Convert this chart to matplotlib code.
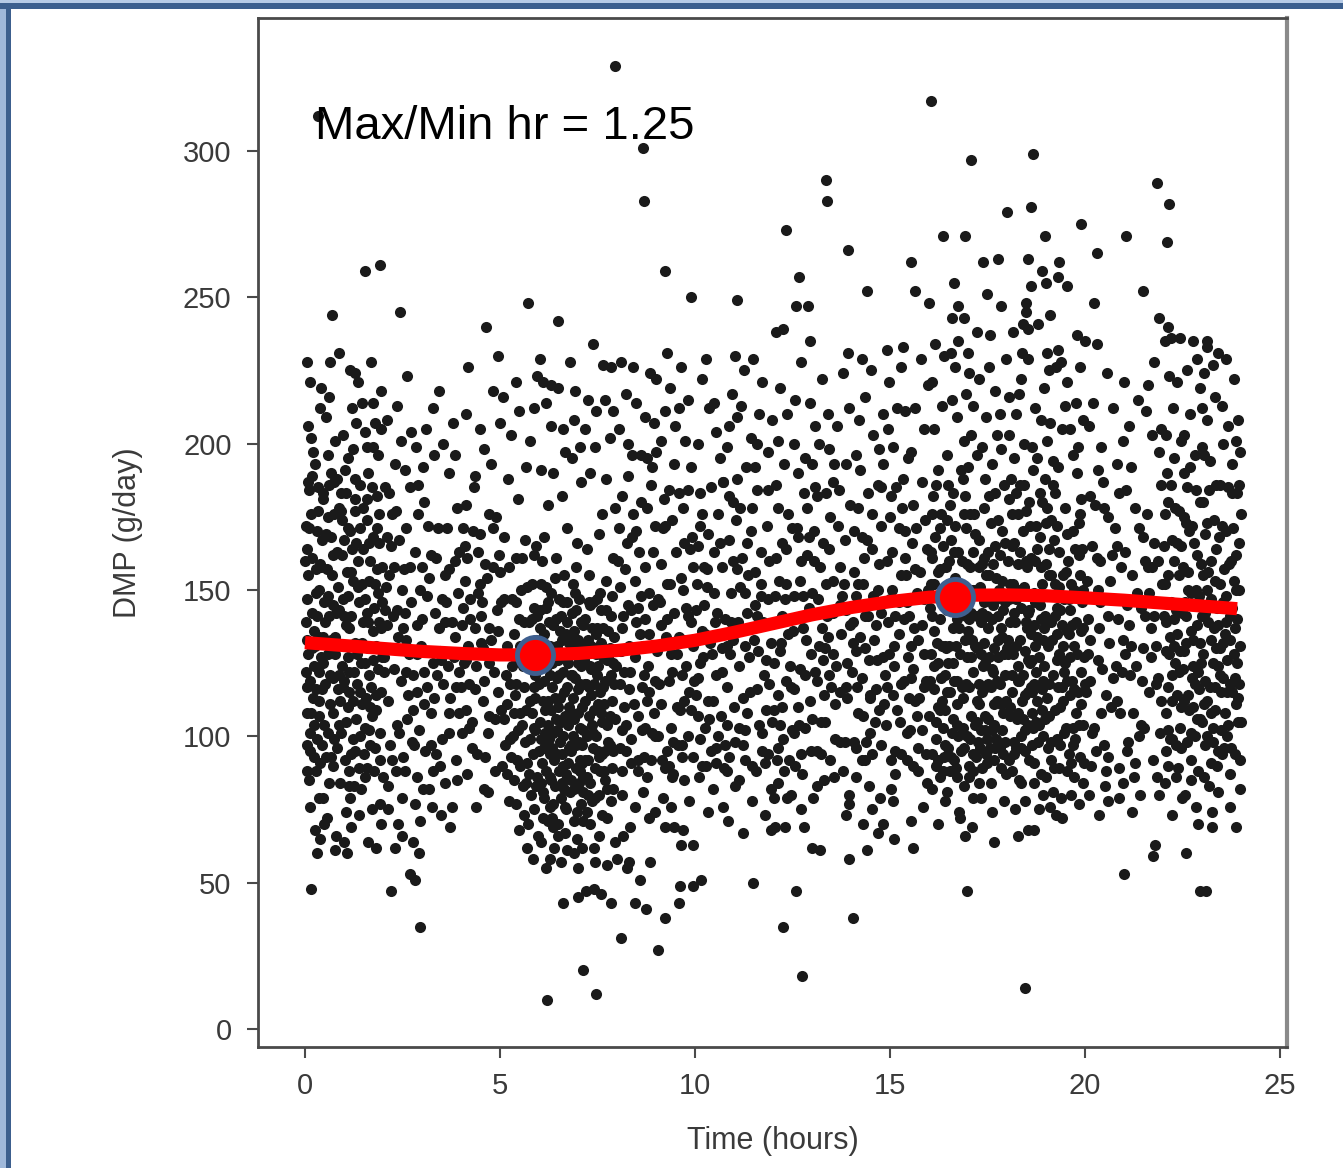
import numpy as np
import matplotlib.pyplot as plt
from matplotlib.patches import Rectangle

pts_00_02 = [
    0.33,312, 0.69,244, 1.54,259, 1.92,261, 0.64,228, 1.28,224, 1.36,221, 1.95,218, 0.38,212, 1.20,212,
    1.74,214, 0.08,206, 0.15,202, 1.54,204, 1.95,205, 1.74,199, 0.59,196, 0.08,187, 0.67,190, 1.28,188,
    1.62,190, 0.92,183, 1.10,195, 0.45,181, 1.85,182, 0.25,193,
    0.03,172, 0.41,158, 1.27,181, 0.86,143, 1.63,166, 0.12,119, 1.94,137, 0.58,101, 1.09,127, 0.29,88,
    1.45,152, 0.74,176, 0.06,147, 1.81,109, 0.95,162, 0.37,134, 1.52,94, 1.18,141, 0.64,121, 1.71,185,
    0.18,161, 1.33,118, 0.82,96, 1.98,158, 0.49,146, 1.05,183, 0.23,104, 1.62,130, 0.91,112, 1.41,171,
    0.08,128, 0.55,169, 1.22,99, 1.77,144, 0.33,177, 0.97,131, 1.56,113, 0.14,95, 1.87,123, 0.69,155,
    1.11,148, 0.44,116, 1.67,97, 0.02,139, 0.78,134, 1.36,160, 1.93,101, 0.27,149, 1.04,105, 0.61,186,
    1.49,139, 0.16,176, 0.88,121, 1.74,168, 0.39,91, 1.28,132, 0.05,108, 1.59,181, 0.72,108, 1.16,170,
    0.25,131, 1.88,149, 0.52,139, 1.02,92, 1.44,125, 0.11,184, 0.81,163, 1.69,117, 0.35,122, 1.24,153,
    0.01,160, 0.67,93, 1.54,103, 0.94,174, 1.83,131, 0.21,113, 1.13,115, 0.47,183, 1.38,89, 0.76,128,
    1.96,115, 0.31,99, 1.07,156, 0.58,128, 1.65,153, 0.09,85, 1.31,106, 0.84,151, 1.79,96, 0.43,167,
    0.19,142, 1.48,164, 0.98,117, 0.63,111, 1.21,164, 1.91,176, 0.04,117, 0.71,145, 1.58,142, 0.36,107,
    0.13,76, 0.57,72, 1.15,79, 1.73,75, 0.89,84, 1.43,82, 0.26,68, 1.99,86, 0.79,66, 1.26,83,
    0.46,79, 1.61,64, 1.04,74, 0.15,48, 0.30,60, 0.77,61, 1.08,60, 0.38,65, 1.82,62, 1.18,69, 1.95,70,
    0.07,155, 0.52,118, 1.14,137, 1.66,110, 0.31,170, 0.87,104, 1.39,146, 1.97,127, 0.22,136, 0.73,162,
    1.25,122, 1.84,157, 0.43,97, 0.99,141, 1.58,174, 0.12,101, 0.66,133, 1.19,94, 1.75,136, 0.35,150,
    0.93,177, 1.47,111, 0.04,164, 0.59,148, 1.09,110, 1.63,121, 0.28,116, 0.81,188, 1.34,128, 1.89,166,
    0.47,125, 1.01,167, 1.53,147, 0.17,130, 0.74,99, 1.29,177, 1.81,114, 0.39,159, 0.96,124, 1.42,100,
    0.06,97, 0.32,141, 0.58,175, 0.84,116, 1.12,88, 1.37,151, 1.63,102, 1.89,139, 0.19,189, 0.45,134,
    0.71,120, 0.97,147, 1.23,112, 1.49,178, 1.75,126, 0.02,122, 0.28,157, 0.54,93, 0.80,142, 1.06,138,
    1.32,166, 1.58,89, 1.84,171, 0.15,108, 0.41,127, 0.67,168, 0.93,101, 1.19,156, 1.45,132, 1.71,107,
    0.10,171, 0.36,112, 0.62,141, 0.88,178, 1.14,122, 1.40,115, 1.66,160, 1.92,92, 0.23,124, 0.49,104,
    0.75,187, 1.01,119, 1.27,95, 1.53,125, 1.79,152, 0.05,133, 0.57,157, 1.09,171, 1.61,139, 1.97,146,
]
pts_02_04 = [
    2.44,245, 2.46,201, 2.85,199, 2.30,193, 2.56,191, 2.05,185, 3.28,212, 3.10,205, 3.55,200, 3.85,196,
    2.20,47, 2.95,35, 2.70,53, 2.82,51, 2.30,62, 2.49,66, 2.92,60, 3.72,69,
    2.07,151, 2.66,128, 3.41,171, 2.93,102, 3.78,139, 2.24,176, 3.12,117, 2.51,93, 3.59,155, 2.38,134,
    3.95,108, 2.81,163, 3.27,88, 2.12,112, 3.66,124, 2.73,146, 3.04,180, 2.45,119, 3.85,160, 2.18,97,
    3.33,142, 2.59,171, 3.51,99, 2.97,131, 2.29,158, 3.72,113, 2.86,86, 3.19,154, 2.03,127, 3.46,129,
    2.62,106, 3.91,178, 2.35,143, 3.08,95, 2.77,121, 3.62,146, 2.15,183, 3.24,108, 2.54,157, 3.87,92,
    2.41,101, 3.01,140, 3.55,118, 2.69,185, 2.09,138, 3.37,161, 2.88,115, 3.81,127, 2.27,123, 3.15,172,
    2.57,142, 3.69,101, 2.99,158, 2.33,88, 3.44,137, 2.79,97, 3.93,149, 2.21,165, 3.29,125, 2.64,114,
    2.48,79, 3.17,82, 2.83,77, 3.58,84, 2.13,83, 3.76,76, 2.94,71, 3.35,94,
    2.11,168, 2.58,133, 3.06,111, 3.52,147, 2.37,104, 2.91,176, 3.39,121, 3.84,134, 2.26,141, 2.74,98,
    3.23,162, 3.68,108, 2.02,122, 2.49,150, 3.13,129, 3.63,171, 2.87,138, 3.47,90, 2.18,130, 3.96,122,
    2.06,143, 2.42,167, 2.78,109, 3.14,148, 3.50,126, 3.86,117, 2.24,92, 2.60,122, 2.96,150, 3.32,113,
    3.68,157, 2.15,155, 2.51,137, 2.87,128, 3.23,97, 3.59,139, 3.95,163, 2.33,177, 2.69,158, 3.05,122,
]
pts_04_06 = [
    4.64,240, 5.72,248, 4.18,226, 5.08,216, 5.50,211, 4.49,205, 5.77,201, 4.69,81, 5.18,87, 4.87,88,
    4.05,171, 4.48,152, 5.21,188, 4.76,133, 5.64,167, 4.14,109, 5.03,146, 4.39,124, 5.47,181, 4.27,96,
    5.86,144, 4.71,176, 5.15,121, 4.02,138, 5.56,104, 4.61,159, 4.94,115, 4.33,185, 5.79,126, 4.09,153,
    5.26,99, 4.52,141, 5.42,161, 4.86,106, 4.19,131, 5.69,91, 4.78,193, 5.09,168, 4.01,117, 5.35,135,
    4.56,112, 5.93,165, 4.24,147, 4.99,128, 4.68,101, 5.53,150, 4.12,179, 5.17,111, 4.43,163, 5.81,108,
    4.35,137, 4.91,175, 5.45,126, 4.59,119, 4.03,101, 5.31,147, 4.82,158, 5.74,139, 4.21,118, 5.12,97,
    4.49,169, 5.61,117, 4.93,143, 4.28,105, 5.38,114, 4.73,137, 5.89,121, 4.16,161, 5.23,158, 4.57,130,
    5.58,83, 5.84,94, 5.41,77, 5.71,70, 5.97,66, 5.52,90, 5.29,93, 5.91,102, 5.66,130, 5.76,112,
    5.95,86, 5.36,85,
    4.08,125, 4.55,146, 5.02,109, 5.49,140, 4.31,170, 4.84,122, 5.33,100, 5.83,152, 4.23,140, 4.71,107,
    5.18,131, 5.67,109, 4.44,149, 4.97,162, 5.44,92, 5.92,133, 4.14,126, 4.62,93, 5.11,147, 5.58,124,
    5.63,98, 5.79,80, 5.86,117, 5.51,108, 5.96,141, 5.70,151, 5.41,118, 5.88,75, 5.74,87, 5.99,95,
    4.06,144, 4.36,116, 4.66,154, 4.96,136, 5.26,118, 5.56,161, 5.86,103, 4.21,103, 4.51,132, 4.81,171,
    5.11,106, 5.41,146, 5.71,128, 4.11,165, 4.41,94, 4.71,125, 5.01,156, 5.31,124, 5.61,139, 5.91,113,
    5.46,102, 5.66,84, 5.81,140, 5.51,131, 5.76,99, 5.96,123, 5.36,108, 5.86,162, 5.61,73, 5.93,83,
]
pts_06_08 = [
    7.95,329, 6.49,242, 7.38,234, 5.95,223, 6.10,221, 6.30,220, 6.50,219, 6.92,218, 7.26,215, 7.90,211,
    7.64,227, 7.85,226, 6.20,10, 7.13,20, 7.46,12, 6.62,43, 7.00,45, 7.85,43, 7.20,47, 7.40,48,
    7.60,46, 6.38,62, 6.56,57, 7.00,55, 7.44,57, 7.75,56, 8.00,58, 8.25,55,
    6.04,152, 6.47,131, 7.21,118, 6.83,97, 7.58,143, 6.16,109, 7.02,84, 6.61,122, 7.39,101, 6.29,76,
    7.77,127, 6.92,149, 6.08,91, 7.45,135, 6.55,113, 7.13,71, 6.37,138, 7.66,88, 6.74,104, 7.29,155,
    6.21,124, 6.99,116, 7.52,95, 6.42,83, 7.08,139, 6.67,67, 7.86,112, 6.12,135, 7.34,123, 6.88,129,
    6.51,147, 7.18,92, 6.26,99, 7.71,153, 6.79,81, 7.41,109, 6.01,118, 6.95,158, 7.62,73, 6.34,117,
    7.05,103, 6.58,94, 7.93,134, 6.19,144, 7.25,133, 6.71,139, 7.49,121, 6.44,106, 7.82,97, 6.86,113,
    6.11,81, 7.36,78, 6.64,155, 7.15,126, 6.39,92, 7.56,115, 6.97,74, 6.24,129, 7.74,104, 6.81,121,
    6.49,70, 7.03,147, 6.15,101, 7.44,89, 6.77,132, 7.27,107, 6.57,141, 7.91,82, 6.32,149, 7.11,97,
    6.69,87, 7.63,137, 6.07,126, 6.91,106, 7.32,145, 6.45,120, 7.53,80, 6.85,142, 6.23,112, 7.19,112,
    6.62,100, 7.08,124, 6.36,69, 6.94,89, 7.47,128, 6.18,97, 6.73,117, 7.23,86, 6.53,136, 7.69,119,
    6.02,105, 6.89,136, 7.38,96, 6.41,154, 7.01,108, 6.66,76, 7.14,131, 6.28,86, 6.82,95, 7.58,108,
    6.13,168, 6.58,182, 7.24,164, 6.85,195, 7.61,176, 6.31,206, 7.07,187, 7.89,161, 6.72,171, 7.43,199,
    6.05,191, 6.97,166, 7.72,188, 6.44,161, 7.17,205, 6.66,197, 7.53,169, 6.22,179, 7.95,178, 6.91,208,
    6.03,143, 6.27,121, 6.52,88, 6.76,110, 7.01,133, 7.26,92, 7.51,111, 7.76,136, 6.14,79, 6.39,130,
    6.64,115, 6.89,82, 7.14,102, 7.39,146, 7.64,127, 7.89,95, 6.09,112, 6.34,96, 6.59,133, 6.84,121,
    7.09,91, 7.34,114, 7.59,132, 7.84,121, 6.19,151, 6.44,140, 6.69,127, 6.94,143, 7.19,140, 7.44,79,
    7.69,95, 6.06,84, 6.31,109, 6.56,105, 6.81,85, 7.06,118, 7.31,124, 7.56,149, 7.81,107, 6.25,139,
    6.50,126, 6.75,91, 7.00,125, 7.25,80, 7.50,137, 7.75,82, 6.12,96, 6.37,77, 6.62,146, 6.87,100,
    7.12,81, 7.37,137, 7.62,94, 7.87,148, 6.22,71, 6.47,94, 6.72,61, 6.97,65, 7.22,74, 6.33,125,
    6.02,137, 6.22,104, 6.42,113, 6.62,90, 6.82,134, 7.02,98, 7.22,129, 7.42,118, 7.62,105, 7.82,130,
    6.12,119, 6.32,85, 6.52,121, 6.72,146, 6.92,120, 7.12,138, 7.32,84, 7.52,124, 7.72,143, 7.92,118,
    6.07,160, 6.27,131, 6.47,102, 6.67,107, 6.87,152, 7.07,77, 7.27,146, 7.47,100, 7.67,111, 7.87,89,
    6.17,88, 6.37,101, 6.57,79, 6.77,96, 6.97,130, 7.17,118, 7.37,104, 7.57,88, 7.77,98, 7.97,124,
    6.04,99, 6.24,146, 6.44,128, 6.64,82, 6.84,108, 7.04,92, 7.24,100, 7.44,130, 7.64,117, 7.84,141,
    6.14,128, 6.34,72, 6.54,98, 6.74,125, 6.94,97, 7.14,86, 7.34,131, 7.54,93, 7.74,126, 7.94,106,
    6.09,72, 6.29,94, 6.49,110, 6.69,135, 6.89,71, 7.09,110, 7.29,117, 7.49,147, 7.69,85, 7.89,125,
]
pts_08_10 = [
    8.67,301, 8.69,283, 9.23,259, 9.90,250, 9.28,231, 8.10,31, 9.05,27, 9.23,38, 8.46,43, 8.74,41,
    9.59,43, 9.62,49, 9.95,49, 8.60,51, 8.85,57, 9.23,69, 9.45,69, 9.70,68, 9.65,63, 9.95,63,
    8.30,57, 8.15,66, 8.40,226, 8.85,224,
    8.04,171, 8.61,148, 9.33,119, 8.87,186, 9.71,133, 8.22,104, 9.12,159, 8.46,127, 9.57,97, 8.35,143,
    9.93,168, 8.76,112, 9.21,181, 8.13,137, 9.64,154, 8.69,93, 9.03,129, 8.41,176, 9.85,115, 8.18,122,
    9.38,103, 8.57,163, 9.46,142, 8.94,108, 8.28,189, 9.67,121, 8.83,135, 9.15,92, 8.07,151, 9.42,174,
    8.64,117, 9.89,139, 8.36,99, 9.06,147, 8.73,158, 9.61,109, 8.11,129, 9.25,134, 8.53,88, 9.81,184,
    8.45,153, 8.98,119, 9.52,163, 8.67,131, 8.09,96, 9.35,152, 8.89,101, 9.76,124, 8.26,166, 9.14,111,
    8.55,107, 9.69,178, 8.97,172, 8.32,116, 9.44,87, 8.79,124, 9.95,131, 8.16,141, 9.28,95, 8.62,180,
    8.38,196, 9.14,201, 8.72,209, 9.47,193, 8.04,205, 9.81,215, 8.91,192, 9.58,212, 8.24,217, 9.01,222,
    8.46,76, 9.19,79, 8.81,72, 9.73,85, 8.14,88, 9.38,76, 8.67,81, 9.96,93,
    8.09,118, 8.58,135, 9.04,100, 9.53,128, 8.31,131, 8.82,149, 9.28,140, 9.77,144, 8.20,157, 8.71,103,
    9.18,171, 9.66,97, 8.43,111, 8.92,163, 9.41,122, 9.90,109, 8.13,182, 8.61,196, 9.10,146, 9.58,183,
    8.37,91, 8.86,92, 9.33,90, 9.82,100, 8.50,170, 9.00,197, 9.48,206, 9.95,158, 8.27,145, 9.71,166,
    8.03,160, 8.33,122, 8.63,102, 8.93,145, 9.23,172, 9.53,110, 9.83,141, 8.18,110, 8.48,139, 8.78,178,
    9.08,118, 9.38,128, 9.68,150, 9.98,119, 8.08,129, 8.38,168, 8.68,121, 8.98,100, 9.28,152, 9.58,134,
    9.88,164, 8.23,95, 8.53,144, 8.83,115, 9.13,138, 9.43,98, 9.73,112, 8.13,102, 8.73,140, 9.33,184,
]
pts_10_12 = [
    11.08,249, 11.03,230, 11.50,229, 10.15,51, 11.50,50, 10.85,71, 11.23,67, 11.95,68, 11.80,73,
    10.06,152, 10.58,176, 11.29,131, 10.83,104, 11.68,163, 10.21,127, 11.09,188, 10.47,112, 11.53,145, 10.34,169,
    11.91,118, 10.77,140, 11.24,97, 10.12,183, 11.61,129, 10.69,158, 11.01,110, 10.41,95, 11.84,172, 10.17,136,
    11.36,155, 10.55,121, 11.47,178, 10.92,149, 10.26,103, 11.71,101, 10.86,167, 11.14,124, 10.03,114, 11.41,137,
    10.63,195, 11.88,147, 10.31,151, 11.04,174, 10.74,89, 11.58,116, 10.14,99, 11.21,161, 10.51,139, 11.79,91,
    10.44,128, 10.97,133, 11.55,192, 10.66,107, 10.08,165, 11.33,108, 10.88,182, 11.74,139, 10.23,145, 11.16,151,
    10.54,204, 11.08,209, 10.81,199, 11.44,202, 10.36,212, 11.86,197, 10.95,217, 11.63,210, 10.19,222, 11.26,225,
    10.46,82, 11.12,85, 10.72,76, 11.57,88, 10.28,90, 11.94,82,
    10.09,120, 10.57,142, 11.03,98, 11.52,133, 10.30,157, 10.81,117, 11.28,149, 11.76,121, 10.19,90, 10.68,130,
    11.16,178, 11.64,104, 10.42,185, 10.91,128, 11.40,115, 11.89,160, 10.12,172, 10.60,100, 11.10,139, 11.58,184,
    10.36,106, 10.86,93, 11.34,166, 11.82,109, 10.50,163, 10.98,160, 11.46,90, 11.95,132, 10.26,135, 11.70,152,
    10.03,143, 10.33,112, 10.63,166, 10.93,139, 11.23,113, 11.53,156, 11.83,126, 10.18,176, 10.48,149, 10.78,97,
    11.08,157, 11.38,127, 11.68,148, 11.98,105, 10.08,107, 10.38,132, 10.68,122, 10.98,180, 11.28,102, 11.58,141,
    11.88,184, 10.23,158, 10.53,96, 10.83,131, 11.13,103, 11.43,170, 11.73,95, 10.13,125, 10.73,187, 11.33,142,
]
pts_12_14 = [
    13.36,290, 13.38,283, 12.33,273, 13.92,266, 12.67,257, 12.59,247, 12.90,247, 12.26,239, 12.95,235, 13.92,231,
    12.08,238, 12.74,18, 12.26,35, 12.60,47, 13.00,62, 13.20,61, 13.95,58, 12.05,69, 12.30,69, 12.02,79,
    13.95,77,
    12.05,148, 12.62,171, 13.29,126, 12.83,103, 13.71,158, 12.21,132, 13.09,185, 12.47,117, 13.53,142, 12.34,164,
    13.91,113, 12.77,137, 13.24,94, 12.12,178, 13.61,124, 12.69,153, 13.01,106, 12.41,92, 13.84,167, 12.17,129,
    13.36,152, 12.55,116, 13.47,175, 12.92,144, 12.26,99, 13.71,98, 12.86,162, 13.14,119, 12.03,109, 13.41,134,
    12.63,190, 13.88,143, 12.31,147, 13.04,170, 12.74,87, 13.58,111, 12.14,96, 13.21,158, 12.51,136, 13.79,88,
    12.44,124, 12.97,128, 13.55,187, 12.66,104, 12.08,161, 13.33,105, 12.88,178, 13.74,135, 12.23,141, 13.16,147,
    12.54,200, 13.08,206, 12.81,195, 13.44,198, 12.36,210, 13.86,193, 12.95,214, 13.63,206, 12.19,219, 13.26,222,
    12.46,80, 13.12,83, 12.72,75, 13.57,86, 12.28,88, 13.94,80,
    12.07,139, 12.55,101, 13.06,160, 13.49,117, 12.33,119, 12.79,183, 13.25,137, 13.78,148, 12.16,153, 12.71,94,
    13.19,131, 13.67,172, 12.45,140, 12.94,112, 13.37,183, 13.90,125, 12.11,92, 12.63,168, 13.13,95, 13.55,153,
    12.39,176, 12.84,133, 13.31,114, 13.85,98, 12.48,102, 13.01,149, 13.43,164, 13.97,179, 12.24,110, 13.72,115,
    12.03,125, 12.33,152, 12.63,110, 12.93,168, 13.23,105, 13.53,128, 13.83,152, 12.18,104, 12.48,171, 12.78,148,
    13.08,122, 13.38,141, 13.68,184, 13.98,138, 12.08,186, 12.38,135, 12.68,123, 12.98,95, 13.28,166, 13.58,99,
    13.88,117, 12.23,166, 12.53,148, 12.83,121, 13.13,182, 13.43,121, 13.73,145, 12.13,114, 12.73,160, 13.33,130,
]
pts_14_16 = [
    14.41,252, 15.64,252, 15.54,262, 14.92,232, 15.33,233, 14.05,38, 14.30,70, 14.70,67, 15.10,65, 14.40,61,
    15.60,62, 15.54,71, 15.08,78,
    14.07,156, 14.59,133, 15.31,178, 14.84,111, 15.69,149, 14.23,191, 15.11,124, 14.48,101, 15.56,166, 14.35,141,
    15.93,119, 14.78,172, 15.26,105, 14.13,129, 15.62,137, 14.71,159, 15.03,92, 14.43,183, 15.86,128, 14.18,108,
    15.38,161, 14.57,148, 15.49,113, 14.94,139, 14.27,168, 15.73,96, 14.88,121, 15.16,185, 14.04,139, 15.43,146,
    14.65,116, 15.89,174, 14.32,152, 15.06,163, 14.76,97, 15.59,123, 14.15,117, 15.23,135, 14.53,176, 15.81,102,
    14.46,126, 14.99,147, 15.55,131, 14.68,186, 14.09,98, 15.35,119, 14.91,104, 15.78,156, 14.25,145, 15.18,109,
    14.56,203, 15.09,199, 14.82,210, 15.46,195, 14.37,216, 15.88,205, 14.97,221, 15.64,212, 14.21,208, 15.28,226,
    14.46,83, 15.14,87, 14.74,79, 15.59,90, 14.29,92, 15.96,84,
    14.06,132, 14.54,94, 15.05,150, 15.47,127, 14.31,107, 14.77,142, 15.24,171, 15.75,113, 14.19,178, 14.66,126,
    15.14,95, 15.63,157, 14.41,167, 14.93,117, 15.37,140, 15.87,147, 14.12,148, 14.61,105, 15.10,131, 15.52,102,
    14.36,130, 14.82,193, 15.29,118, 15.83,187, 14.49,114, 15.00,175, 15.41,155, 15.95,164, 14.27,120, 15.67,171,
    14.03,122, 14.33,161, 14.63,138, 14.93,160, 15.23,146, 15.53,120, 15.83,138, 14.18,152, 14.48,113, 14.78,185,
    15.08,114, 15.38,170, 15.68,107, 15.98,150, 14.08,170, 14.38,98, 14.68,150, 14.98,128, 15.28,155, 15.58,179,
    15.88,117, 14.23,134, 14.53,164, 14.83,127, 15.13,141, 15.43,101, 15.73,133, 14.13,96, 14.73,109, 15.33,188,
    15.93,94, 14.43,141, 15.03,182, 15.63,112, 15.48,141,
]
pts_16_18 = [
    16.05,317, 17.08,297, 16.36,271, 16.92,271, 17.38,262, 17.77,263, 16.00,248, 16.64,255, 17.49,251, 16.74,247,
    16.60,243, 16.90,243, 17.85,247, 17.23,238, 17.56,237, 16.74,235, 16.56,231, 17.00,231, 16.97,47, 17.10,69,
    17.67,64, 16.40,78, 16.80,72,
    16.04,163, 16.51,131, 17.22,112, 16.86,188, 17.64,145, 16.19,99, 17.05,158, 16.42,121, 17.48,91, 16.31,176,
    17.87,134, 16.72,104, 17.17,169, 16.09,141, 17.59,117, 16.66,154, 16.98,127, 16.37,88, 17.81,162, 16.14,116,
    17.33,139, 16.54,179, 17.44,102, 16.93,147, 16.24,125, 17.69,183, 16.82,95, 17.11,133, 16.01,107, 17.38,124,
    16.61,137, 17.91,108, 16.29,157, 17.02,86, 16.71,119, 17.55,155, 16.11,182, 17.26,98, 16.47,143, 17.76,127,
    16.41,109, 16.94,171, 17.52,137, 16.64,92, 16.06,128, 17.31,151, 16.87,113, 17.73,99, 16.21,148, 17.14,122,
    16.56,167, 17.67,111, 16.97,100, 16.34,131, 17.42,178, 16.79,128, 17.95,146, 16.17,90, 17.24,141, 16.62,106,
    16.45,196, 17.08,203, 16.83,191, 17.47,209, 16.33,213, 17.85,198, 16.95,217, 17.61,193, 16.13,205, 17.27,222,
    16.46,81, 17.13,79, 16.76,74, 17.58,84, 16.28,86, 17.92,78, 17.36,89, 16.89,83,
    17.12,150, 17.35,115, 17.66,130, 17.83,118, 17.52,163, 17.29,167, 17.07,142, 17.78,174, 17.95,121, 17.45,94,
    17.18,104, 17.62,102, 17.88,153, 17.40,132,
    16.03,144, 16.27,109, 16.52,152, 16.77,137, 17.02,117, 17.27,158, 17.52,106, 17.77,141, 16.15,168, 16.40,131,
    16.65,119, 16.90,96, 17.15,176, 17.40,146, 17.65,122, 17.90,94, 16.09,94, 16.34,146, 16.59,101, 16.84,160,
    17.09,127, 17.34,102, 17.59,173, 17.84,111, 16.21,132, 16.46,174, 16.71,140, 16.96,118, 17.21,93, 17.46,117,
    17.71,154, 17.96,166, 16.12,152, 16.37,103, 16.62,183, 16.87,142, 17.12,88, 17.37,159, 17.62,140, 17.87,102,
    16.24,110, 16.49,96, 16.74,163, 16.99,136, 17.24,130, 17.49,141, 17.74,112, 17.99,130, 16.18,186, 16.43,158,
    16.68,89, 16.93,182, 17.18,150, 17.43,107, 17.68,96, 17.93,186, 16.55,115, 17.05,99, 17.55,127, 17.80,150,
    16.02,119, 16.22,156, 16.42,97, 16.62,125, 16.82,150, 17.02,140, 17.22,130, 17.42,161, 17.62,123, 17.82,96,
    16.12,136, 16.32,120, 16.52,160, 16.72,111, 16.92,133, 17.12,163, 17.32,96, 17.52,118, 17.72,147, 17.92,128,
    16.07,176, 16.27,140, 16.47,115, 16.67,172, 16.87,103, 17.07,107, 17.27,118, 17.47,155, 17.67,104, 17.87,170,
    16.17,105, 16.37,165, 16.57,93, 16.77,148, 16.97,159, 17.17,131, 17.37,142, 17.57,96, 17.77,133, 17.97,112,
    16.04,152, 16.24,92, 16.44,130, 16.64,163, 16.84,117, 17.04,176, 17.24,105, 17.44,125, 17.64,159, 17.84,137,
    16.14,124, 16.34,112, 16.54,143, 16.74,100, 16.94,141, 17.14,94, 17.34,128, 17.54,182, 17.74,119, 17.94,98,
    16.09,161, 16.29,171, 16.49,125, 16.69,131, 16.89,176, 17.09,150, 17.29,111, 17.49,99, 17.69,165, 17.89,143,
]
pts_18_20 = [
    18.67,299, 18.62,281, 18.00,279, 19.90,275, 18.97,271, 18.54,263, 18.90,259, 19.33,262, 18.62,254, 19.00,255,
    19.30,257, 19.54,254, 18.50,248, 18.50,245, 18.40,241, 18.80,241, 19.10,244, 18.54,239, 18.15,238, 19.80,237,
    18.38,231, 19.03,231, 19.30,232, 18.46,14, 18.28,66, 19.40,72, 18.70,68, 19.10,76,
    18.06,147, 18.53,126, 19.27,172, 18.81,104, 19.66,138, 18.22,183, 19.08,118, 18.45,95, 19.52,156, 18.34,133,
    19.89,111, 18.77,164, 19.21,89, 18.12,115, 19.61,127, 18.69,149, 19.03,178, 18.41,121, 19.84,162, 18.17,98,
    19.36,143, 18.58,172, 19.47,101, 18.93,133, 18.27,159, 19.72,116, 18.86,87, 19.14,155, 18.02,128, 19.43,131,
    18.63,108, 19.91,181, 18.36,144, 19.05,96, 18.74,122, 19.58,147, 18.11,188, 19.23,109, 18.52,158, 19.87,93,
    18.47,102, 18.98,141, 19.54,119, 18.67,191, 18.08,139, 19.34,163, 18.89,116, 19.79,128, 18.29,124, 19.12,174,
    18.56,143, 19.69,103, 18.99,159, 18.32,85, 19.41,138, 18.79,98, 19.94,150, 18.19,166, 19.29,126, 18.64,115,
    18.43,200, 19.11,207, 18.76,195, 19.49,213, 18.24,210, 19.83,199, 18.95,219, 19.62,205, 18.06,216, 19.26,226,
    18.47,78, 19.17,81, 18.83,75, 19.71,86, 18.14,88, 19.39,79, 18.68,84, 19.97,91,
    18.15,152, 18.38,112, 18.61,135, 18.84,168, 18.25,106, 18.71,131, 18.49,177, 18.91,109, 18.33,186, 18.57,92,
    18.03,160, 18.28,119, 18.53,142, 18.78,112, 19.03,148, 19.28,99, 19.53,169, 19.78,139, 18.15,128, 18.40,170,
    18.65,97, 18.90,152, 19.15,133, 19.40,117, 19.65,91, 19.90,122, 18.09,107, 18.34,150, 18.59,125, 18.84,183,
    19.09,107, 19.34,151, 19.59,135, 19.84,104, 18.21,139, 18.46,114, 18.71,160, 18.96,124, 19.21,167, 19.46,122,
    19.71,150, 19.96,137, 18.12,176, 18.37,96, 18.62,117, 18.87,140, 19.12,92, 19.37,110, 19.62,114, 19.87,176,
    18.24,131, 18.49,160, 18.74,105, 18.99,173, 19.24,141, 19.49,178, 19.74,99, 19.99,118, 18.18,94, 18.43,186,
    18.68,138, 18.93,100, 19.18,186, 19.43,155, 19.68,170, 19.93,164, 18.55,104, 19.05,131, 19.55,88, 19.80,190,
    18.02,133, 18.22,147, 18.42,106, 18.62,161, 18.82,127, 19.02,113, 19.22,152, 19.42,126, 19.62,143, 19.82,115,
    18.12,165, 18.32,119, 18.52,137, 18.72,146, 18.92,119, 19.12,139, 19.32,117, 19.52,103, 19.72,131, 19.92,146,
    18.07,110, 18.27,176, 18.47,129, 18.67,103, 18.87,158, 19.07,164, 19.27,135, 19.47,147, 19.67,119, 19.87,155,
    18.17,142, 18.37,100, 18.57,180, 18.77,134, 18.97,106, 19.17,121, 19.37,97, 19.57,160, 19.77,108, 19.97,127,
    18.04,181, 18.24,96, 18.44,151, 18.64,126, 18.84,145, 19.04,139, 19.24,183, 19.44,112, 19.64,152, 19.84,173,
    18.14,121, 18.34,163, 18.54,115, 18.74,172, 18.94,137, 19.14,98, 19.34,128, 19.54,136, 19.74,164, 19.94,104,
    18.09,152, 18.29,108, 18.49,139, 18.69,118, 18.89,180, 19.09,155, 19.29,144, 19.49,125, 19.69,97, 19.89,136,
]
pts_20_22 = [
    21.05,271, 20.30,265, 21.50,252, 20.23,248, 21.85,289, 21.90,243, 20.00,235, 20.30,234, 21.00,53, 21.74,59,
    21.80,63, 21.20,74, 21.90,80, 20.60,78,
    20.05,153, 20.62,132, 21.38,171, 20.91,108, 21.77,141, 20.26,179, 21.15,121, 20.49,97, 21.61,158, 20.37,137,
    21.94,112, 20.83,165, 21.29,91, 20.14,119, 21.68,127, 20.74,147, 21.06,184, 20.44,123, 21.87,160, 20.19,101,
    21.43,144, 20.58,175, 21.52,103, 20.97,133, 20.31,161, 21.82,118, 20.88,89, 21.21,155, 20.07,128, 21.48,130,
    20.67,110, 21.96,186, 20.39,146, 21.11,98, 20.79,124, 21.65,149,
    20.42,199, 21.13,206, 20.81,193, 21.57,211, 20.21,214, 21.89,197, 20.99,221, 21.71,203,
    20.52,83, 21.25,86, 20.86,79, 21.75,92, 20.16,90,
    20.08,140, 20.55,114, 21.02,163, 21.45,119, 20.29,95, 20.76,171, 21.23,108, 21.70,137, 20.18,165, 20.65,153,
    21.12,138, 21.59,176, 20.41,108, 20.94,122, 21.34,149, 21.81,131, 20.12,182, 20.59,93, 21.08,95, 21.55,160,
    20.34,150, 20.84,140, 21.31,124, 21.92,101, 20.47,187,
    20.03,115, 20.38,160, 20.73,120, 21.08,145, 21.43,104, 21.78,166, 20.13,133, 20.48,178, 20.83,112, 21.18,131,
    21.53,141, 21.88,120, 20.23,103, 20.58,141, 20.93,158, 21.28,178, 21.63,115, 21.98,152, 20.33,126, 20.68,162,
    21.03,128, 21.38,100, 21.73,158, 20.88,183, 21.48,168,
]
pts_22_24 = [
    22.15,282, 22.10,269, 22.13,240, 22.05,235, 22.44,236, 22.77,235, 23.13,235, 23.13,233, 22.95,47, 23.10,47,
    22.60,60, 23.26,69, 23.26,74,
    22.04,152, 22.55,129, 23.31,174, 22.86,106, 23.72,141, 22.21,186, 23.09,119, 22.47,96, 23.56,157, 22.35,135,
    23.93,113, 22.79,166, 23.24,91, 22.13,117, 23.64,126, 22.72,149, 23.03,180, 22.42,122, 23.86,162, 22.18,99,
    23.38,144, 22.59,173, 23.49,102, 22.95,132, 22.28,160, 23.78,115, 22.89,88, 23.16,156, 22.07,129, 23.45,130,
    22.66,109, 23.91,183, 22.38,145, 23.07,97, 22.76,124, 23.61,148, 22.11,190, 23.22,108, 22.51,158, 23.84,94,
    22.44,103, 22.99,141, 23.55,120, 22.69,192, 22.09,139, 23.36,164, 22.92,116, 23.81,128, 22.31,125, 23.13,173,
    22.58,141, 23.67,104, 22.97,159, 22.33,86, 23.42,138, 22.81,100, 23.96,150, 22.24,167, 23.28,125, 22.63,114,
    22.46,201, 23.12,208, 22.83,196, 23.51,213, 22.26,212, 23.87,201, 22.94,219, 23.66,206, 22.16,223, 23.27,227,
    22.48,79, 23.19,83, 22.85,76, 23.73,87, 22.14,90, 23.41,81, 22.71,85, 23.98,92,
    23.58,135, 23.79,171, 23.95,118, 23.34,109, 23.69,159, 23.89,140, 23.47,186, 23.99,105,
    22.03,165, 22.28,140, 22.53,112, 22.78,133, 23.03,155, 23.28,98, 23.53,146, 23.78,183, 22.15,128, 22.40,177,
    22.65,156, 22.90,122, 23.15,139, 23.40,95, 23.65,115, 23.90,125, 22.09,108, 22.34,97, 22.59,132, 22.84,150,
    23.09,169, 23.34,153, 23.59,108, 23.84,137, 22.21,146, 22.46,165, 22.71,101, 22.96,180, 23.21,117, 23.46,152,
    23.71,133, 23.96,166, 22.12,180, 22.37,114, 22.62,185, 22.87,138, 23.12,100, 23.37,186, 23.62,170, 23.87,111,
    22.24,99, 22.49,142, 22.74,172, 22.99,105, 23.24,133, 23.49,115, 23.74,96, 23.99,176, 22.55,190, 23.05,196,
    22.02,141, 22.22,121, 22.42,155, 22.62,98, 22.82,118, 23.02,128, 23.22,160, 23.42,124, 23.62,139, 23.82,153,
    22.12,155, 22.32,178, 22.52,123, 22.72,136, 22.92,148, 23.12,112, 23.32,137, 23.52,172, 23.72,118, 23.92,105,
    22.07,95, 22.27,131, 22.47,110, 22.67,170, 22.87,162, 23.07,142, 23.27,103, 23.47,121, 23.67,185, 23.87,150,
    22.17,134, 22.37,166, 22.57,146, 22.77,110, 22.97,125, 23.17,184, 23.37,130, 23.57,96, 23.77,144, 23.97,131,
    22.04,176, 22.24,112, 22.44,129, 22.64,150, 22.84,184, 23.04,111, 23.24,147, 23.44,168, 23.64,100, 23.84,120,
    22.14,102, 22.34,143, 22.54,175, 22.74,120, 22.94,106, 23.14,150, 23.34,117, 23.54,132, 23.74,160, 23.94,186,
]
# upper part of the cloud (about 185-235 g/day), all hours
pts_upper_band = [
    0.05,228, 0.42,219, 0.88,231, 1.31,207, 1.69,228, 0.21,197, 0.55,209, 0.98,203, 1.45,214, 1.88,196,
    0.14,221, 0.77,201, 1.15,225, 1.59,199, 0.33,185, 1.03,191, 1.41,186, 1.79,207, 0.62,216, 1.24,198,
    2.09,208, 2.61,223, 3.02,192, 3.44,218, 3.79,207, 2.35,213, 2.89,186, 3.31,196, 3.68,190, 2.72,204,
    4.12,210, 4.58,198, 5.01,207, 5.42,221, 5.88,212, 4.36,189, 4.83,218, 5.27,203, 5.66,192, 4.95,230,
    6.18,214, 6.61,205, 7.04,199, 7.47,211, 7.81,202, 6.37,190, 6.79,228, 7.31,190, 7.69,215, 6.02,229,
    8.11,228, 8.49,214, 8.95,207, 9.36,219, 9.74,201, 8.29,200, 8.77,195, 9.22,211, 9.63,226, 9.91,192,
    10.09,200, 10.49,214, 10.88,206, 11.31,192, 11.72,221, 10.27,229, 10.71,187, 11.19,213, 11.59,200, 11.97,208,
    12.12,201, 12.57,215, 12.99,193, 13.41,210, 13.79,224, 12.28,193, 12.73,228, 13.18,200, 13.56,193, 13.96,212,
    14.12,196, 14.52,225, 14.95,205, 15.39,211, 15.79,229, 14.29,229, 14.71,198, 15.19,212, 15.55,197, 15.97,220,
    16.08,221, 16.39,230, 16.72,209, 17.03,224, 17.36,199, 17.68,218, 17.97,229, 16.22,191, 16.58,215, 16.91,201,
    17.22,196, 17.55,226, 17.83,210, 16.15,234, 16.66,226, 17.14,213, 17.43,188, 17.75,203, 16.48,186, 16.99,192,
    18.05,203, 18.36,222, 18.71,212, 19.02,201, 19.38,228, 19.69,196, 19.95,208, 18.18,195, 18.55,229, 18.86,208,
    19.19,194, 19.55,221, 19.88,226, 18.31,217, 18.64,199, 19.07,225, 19.42,205, 19.77,214, 18.97,188, 19.31,192,
    20.11,206, 20.56,224, 20.98,201, 21.36,215, 21.77,228, 20.33,191, 20.71,212, 21.19,192, 21.62,220, 21.94,205,
    22.08,203, 22.36,221, 22.69,210, 23.01,199, 23.33,216, 23.62,229, 23.93,208, 22.21,236, 22.53,203, 22.88,229,
    23.21,194, 23.55,200, 23.83,222, 22.29,195, 22.62,225, 22.99,212, 23.41,231, 23.76,193, 23.05,224, 23.97,197,
]
# lower part of the cloud (about 55-95 g/day), all hours
pts_lower_band = [
    0.04,88, 0.35,79, 0.71,90, 1.12,83, 1.55,86, 1.92,77, 0.22,93, 0.62,84, 1.01,64, 1.39,73, 1.78,88, 0.48,70,
    2.14,75, 2.57,88, 3.02,82, 3.48,73, 3.89,85, 2.38,70, 2.77,64, 3.25,76,
    4.15,87, 4.59,82, 5.05,90, 5.49,68, 5.85,58, 4.39,76, 5.22,78, 5.68,62,
    6.06,64, 6.27,58, 6.48,66, 6.69,75, 6.90,60, 7.11,62, 7.32,70, 7.53,66, 7.74,72, 7.95,64,
    6.17,55, 6.58,84, 7.05,88, 7.42,62, 7.85,78,
    8.12,80, 8.55,92, 8.98,74, 9.41,86, 9.84,78, 8.33,69, 8.77,86, 9.22,89, 9.67,93,
    10.11,86, 10.55,91, 11.02,83, 11.45,78, 11.88,94, 10.33,74, 10.81,88, 11.27,92,
    12.14,84, 12.57,90, 13.03,79, 13.46,92, 13.87,73, 12.37,79, 12.79,69, 13.31,85,
    14.13,86, 14.55,75, 15.02,82, 15.44,92, 15.85,76, 14.36,92, 14.81,70, 15.29,94, 15.72,88,
    16.08,82, 16.39,93, 16.71,86, 17.03,90, 17.34,79, 17.66,92, 17.97,87, 16.22,70, 16.55,88, 16.93,66,
    17.27,84, 17.61,74, 17.85,89,
    18.06,92, 18.37,84, 18.69,91, 19.01,86, 19.33,89, 19.65,80, 19.96,84, 18.21,75, 18.55,68, 18.92,80,
    19.26,73, 19.58,94, 19.85,77,
    20.11,80, 20.53,88, 20.97,84, 21.41,80, 21.85,86, 20.35,73,
    22.05,84, 22.39,89, 22.72,92, 23.05,86, 23.38,90, 23.71,76, 23.98,82, 22.22,73, 22.56,80, 22.91,70,
    23.52,94, 23.86,69,
]

# fitted curve read at each hour
curve_hours = [0, 1, 2, 3, 4, 5, 6, 7, 8, 9, 10, 11, 12, 13, 14, 15, 16, 17, 18, 19, 20, 21, 22, 23, 23.9]
curve_dmp = [132, 131, 130, 129, 128.3, 127.8, 127.8, 128.3, 129.3, 130.8, 132.8, 135.5, 138.5, 141.5,
             144, 146, 147.5, 148.2, 148.3, 148, 147.3, 146.5, 145.5, 144.5, 143.6]

# min and max of the curve
peak_hours = [5.9, 16.67]
peak_dmp = [127.8, 147.6]

W, H = 1343, 1168
fig = plt.figure(figsize=(W / 100, H / 100), dpi=100)
fig.patch.set_facecolor('white')

# slide frame (left and top edge)
fig.add_artist(Rectangle((0, 0), 6 / W, 1, transform=fig.transFigure, color='#9fb8da', lw=0))
fig.add_artist(Rectangle((6 / W, 0), 5 / W, 1, transform=fig.transFigure, color='#3c5f8e', lw=0))
fig.add_artist(Rectangle((0, 1 - 3 / H), 1, 3 / H, transform=fig.transFigure, color='#b7cbe6', lw=0))
fig.add_artist(Rectangle((0, 1 - 9 / H), 1, 6 / H, transform=fig.transFigure, color='#3c5f8e', lw=0))

ax = fig.add_axes([258 / W, 1 - 1047 / H, (1287 - 258) / W, (1047 - 18) / H])

blocks = [pts_00_02, pts_02_04, pts_04_06, pts_06_08, pts_08_10, pts_10_12,
          pts_12_14, pts_14_16, pts_16_18, pts_18_20, pts_20_22, pts_22_24,
          pts_upper_band, pts_lower_band]
pts = np.concatenate([np.array(b, dtype=float).reshape(-1, 2) for b in blocks])
ax.scatter(pts[:, 0], pts[:, 1], s=64, c='#1a1a1a', linewidths=0, zorder=2)

ax.plot(curve_hours, curve_dmp, color='#ff0000', lw=9.5, solid_capstyle='butt', zorder=3)
ax.plot(peak_hours, peak_dmp, 'o', ms=26, mfc='#ff0000', mec='#3f5f8f', mew=3.5, zorder=4)

ax.set_xlim(-1.205, 25.18)
ax.set_ylim(-6.15, 345.4)
ax.set_xticks([0, 5, 10, 15, 20, 25])
ax.set_yticks([0, 50, 100, 150, 200, 250, 300])

for s in ax.spines.values():
    s.set_color('#4a4a4a')
    s.set_linewidth(2)
ax.spines['right'].set_color('#8a8a8a')
ax.spines['right'].set_linewidth(3)

ax.tick_params(length=8, width=1.5, color='#4a4a4a', labelsize=21, labelcolor='#3a3a3a')
ax.tick_params(axis='y', pad=11)
ax.tick_params(axis='x', pad=10)
for lab in ax.get_xticklabels() + ax.get_yticklabels():
    lab.set_fontfamily('Liberation Sans')

ax.set_xlabel('Time (hours)', fontsize=22, color='#3a3a3a', family='Liberation Sans')
ax.set_ylabel('DMP (g/day)', fontsize=22, color='#3a3a3a', family='Liberation Sans')
ax.xaxis.set_label_coords(0.5, -0.077)
ax.yaxis.set_label_coords(-0.112, 0.5)

ax.text(0.26, 304, 'Max/Min hr = 1.25', fontsize=34, color='black', family='Liberation Sans',
        ha='left', va='baseline', zorder=5)

fig.savefig('out.png', dpi=100, facecolor='white')
